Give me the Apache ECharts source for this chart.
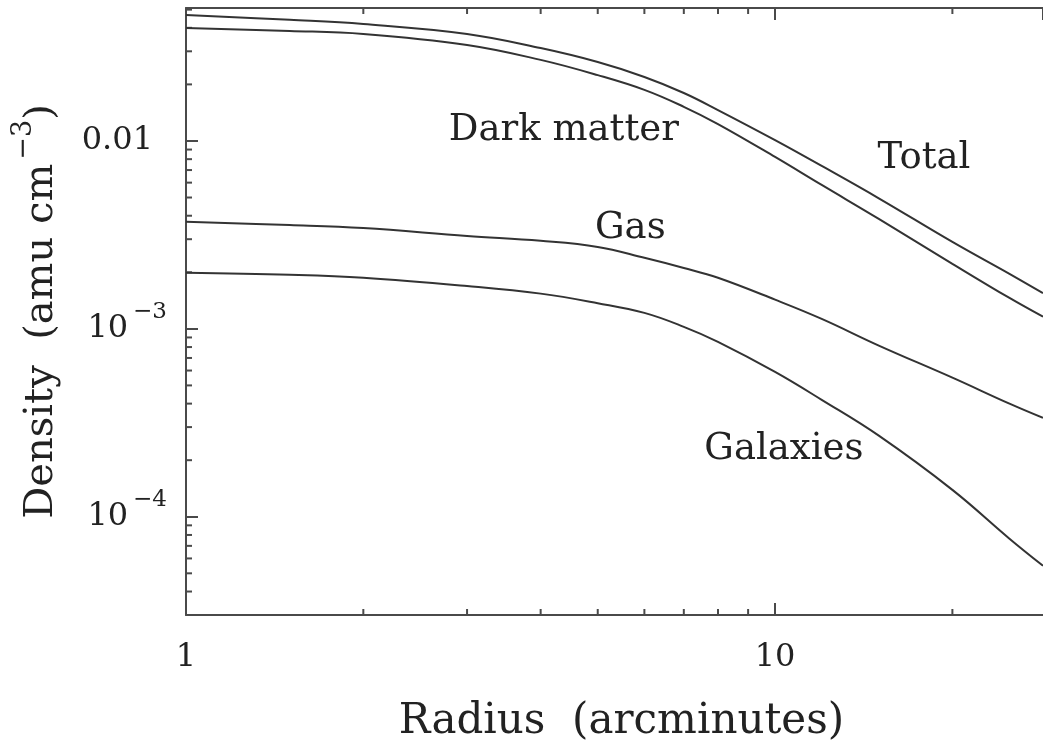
<!DOCTYPE html>
<html>
<head>
<meta charset="utf-8">
<script src="https://cdn.jsdelivr.net/npm/echarts@6/dist/echarts.min.js"></script>
<style>
  html, body { margin: 0; padding: 0; background: #fff; }
  #main { width: 1043px; height: 744px; }
</style>
</head>
<body>
<div id="main"></div>
<script>
// radius in arcminutes, densities in amu cm^-3
var radius = [1, 1.5, 2, 3, 4, 5, 6, 7, 8, 10, 12, 15, 20, 25, 28.5];
var totalDensity = [0.0468, 0.0441, 0.0419, 0.0371, 0.0312, 0.0263, 0.0219, 0.0180, 0.0146, 0.0101, 0.00736, 0.00495, 0.00290, 0.00196, 0.00155];
var darkMatterDensity = [0.0399, 0.0385, 0.0371, 0.0324, 0.0270, 0.0224, 0.0187, 0.0152, 0.0123, 0.00822, 0.00583, 0.00385, 0.00222, 0.00146, 0.00116];
var gasDensity = [0.00371, 0.00357, 0.00344, 0.00312, 0.00294, 0.00273, 0.00239, 0.00211, 0.00187, 0.00143, 0.00113, 0.000815, 0.000550, 0.000400, 0.000336];
var galaxyDensity = [0.00199, 0.00194, 0.00187, 0.00169, 0.00154, 0.00137, 0.001216, 0.001025, 0.000853, 0.000590, 0.000419, 0.000270, 0.000139, 0.0000764, 0.0000548];

// curve labels: [radius, density, text]
var curveLabels = [
    [4.38, 0.01144, 'Dark matter'],
    [17.9, 0.00812, 'Total'],
    [5.68, 0.00344, 'Gas'],
    [10.35, 0.000227, 'Galaxies']
];

var xMin = 1, xMax = 28.5;
var yMin = 3e-5, yMax = 0.051;
var xMinorTicks = [2, 3, 4, 5, 6, 7, 8, 9, 20];
var yMinorTicks = [4e-5, 5e-5, 6e-5, 7e-5, 8e-5, 9e-5,
    2e-4, 3e-4, 4e-4, 5e-4, 6e-4, 7e-4, 8e-4, 9e-4,
    2e-3, 3e-3, 4e-3, 5e-3, 6e-3, 7e-3, 8e-3, 9e-3,
    2e-2, 3e-2, 4e-2, 5e-2];

var font = 'DejaVu Serif';
var ink = '#222';
var axisColor = '#4a4a4a';

function pairs(xs, ys) {
    return xs.map(function (x, i) { return [x, ys[i]]; });
}

function curve(name, values) {
    return {
        name: name,
        type: 'line',
        data: pairs(radius, values),
        showSymbol: false,
        smooth: 0.4,
        lineStyle: { color: '#333', width: 2 }
    };
}

function tickLine(x1, y1, x2, y2) {
    return { type: 'line', shape: { x1: x1, y1: y1, x2: x2, y2: y2 }, style: { stroke: axisColor, lineWidth: 2 } };
}

var myChart = echarts.init(document.getElementById('main'));

var option = {
    animation: false,
    backgroundColor: '#fff',
    grid: { left: 186, right: 0, top: 8, bottom: 129, outerBoundsMode: 'none', containLabel: false },
    xAxis: [{
        type: 'log',
        min: xMin,
        max: xMax,
        name: 'Radius  (arcminutes)',
        nameLocation: 'middle',
        nameGap: 86,
        nameTextStyle: { fontFamily: font, fontSize: 42, color: ink, padding: [0, 0, 0, 14] },
        axisLine: { lineStyle: { color: axisColor, width: 2 } },
        axisTick: { inside: true, length: 12, lineStyle: { color: axisColor, width: 2 } },
        axisLabel: {
            margin: 27, fontFamily: font, fontSize: 32, color: ink,
            showMinLabel: true, showMaxLabel: false,
            formatter: function (v) { return String(Math.round(v)); }
        },
        splitLine: { show: false }
    }, {
        type: 'log',
        position: 'top',
        min: xMin,
        max: xMax,
        axisLine: { lineStyle: { color: axisColor, width: 2 } },
        axisTick: { inside: true, length: 12, lineStyle: { color: axisColor, width: 2 } },
        axisLabel: { show: false },
        splitLine: { show: false }
    }],
    yAxis: {
        type: 'log',
        min: yMin,
        max: yMax,
        name: '{a|Density  (amu cm}{s|−3}{a|)}',
        nameLocation: 'middle',
        nameRotate: 90,
        nameGap: 112,
        nameTextStyle: {
            rich: {
                a: { fontFamily: font, fontSize: 40, color: ink, lineHeight: 64 },
                s: { fontFamily: font, fontSize: 27, color: ink, lineHeight: 27, verticalAlign: 'top', padding: [0, 0, 0, 4] }
            }
        },
        axisLine: { lineStyle: { color: axisColor, width: 2 } },
        axisTick: { inside: true, length: 12, lineStyle: { color: axisColor, width: 2 } },
        axisLabel: {
            margin: 19,
            showMinLabel: false, showMaxLabel: false,
            formatter: function (v) {
                var e = Math.round(Math.log(v) / Math.LN10);
                if (e === -2) return '{m|0.01}';
                return '{n|10}{s|−' + (-e) + '}';
            },
            rich: {
                m: { fontFamily: font, fontSize: 32, color: ink, lineHeight: 40, padding: [0, 14, 0, 0] },
                n: { fontFamily: font, fontSize: 32, color: ink, lineHeight: 56 },
                s: { fontFamily: font, fontSize: 23, color: ink, lineHeight: 23, verticalAlign: 'top', padding: [0, 0, 0, 5] }
            }
        },
        splitLine: { show: false }
    },
    series: [
        curve('Total', totalDensity),
        curve('Dark matter', darkMatterDensity),
        curve('Gas', gasDensity),
        curve('Galaxies', galaxyDensity),
        {
            type: 'scatter',
            data: curveLabels,
            symbolSize: 0,
            silent: true,
            label: {
                show: true,
                position: 'inside',
                formatter: function (p) { return p.value[2]; },
                fontFamily: font,
                fontSize: 37,
                color: ink,
                opacity: 1,
                textBorderWidth: 0
            }
        },
        {
            // minor ticks on bottom and top x axes
            type: 'custom',
            silent: true,
            clip: false,
            data: xMinorTicks.map(function (v) { return [v, yMin]; }),
            renderItem: function (params, api) {
                var x = api.value(0);
                var b = api.coord([x, yMin]);
                var t = api.coord([x, yMax]);
                return {
                    type: 'group',
                    children: [tickLine(b[0], b[1], b[0], b[1] - 6), tickLine(t[0], t[1], t[0], t[1] + 6)]
                };
            }
        },
        {
            // minor ticks on the y axis
            type: 'custom',
            silent: true,
            clip: false,
            data: yMinorTicks.map(function (v) { return [xMin, v]; }),
            renderItem: function (params, api) {
                var p = api.coord([xMin, api.value(1)]);
                return tickLine(p[0], p[1], p[0] + 6, p[1]);
            }
        }
    ]
};

myChart.setOption(option);
</script>
</body>
</html>
